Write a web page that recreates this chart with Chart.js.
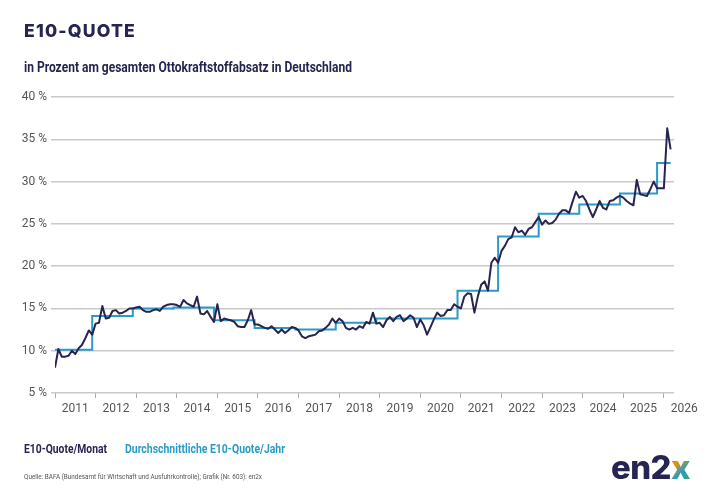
<!DOCTYPE html>
<html>
<head>
<meta charset="utf-8">
<script src="https://cdn.jsdelivr.net/npm/chart.js@4.4.1/dist/chart.umd.min.js"></script>
<style>
  body { margin:0; width:710px; height:502px; background:#fff; position:relative; overflow:hidden;
         font-family:"Liberation Sans Narrow",Roboto,"Liberation Sans",sans-serif; }
  #myChart { position:absolute; left:0; top:0; }
  .txt { position:absolute; white-space:nowrap; transform-origin:0 50%; }
  #title { left:24px; top:20px; font:800 18px Inter,"Open Sans",sans-serif; letter-spacing:1.2px; color:#262450; }
  #sub { left:24px; top:59px; font-weight:bold; font-size:14px; color:#262450; }
  #leg1 { left:24px; top:441px; font-weight:bold; font-size:13px; color:#262450; }
  #leg2 { left:125px; top:441px; font-weight:bold; font-size:13px; color:#2a9bc6; }
  #src { left:24px; top:472px; font-size:8px; color:#555; }
  #logo { left:611px; top:448px; font:800 32px Inter,"Open Sans",sans-serif; letter-spacing:-0.5px; color:#262450; }
  #logo .x { background:linear-gradient(135deg,#e63b2e 0%,#f39200 35%,#2a9bc6 60%,#3aaa35 100%);
             -webkit-background-clip:text; background-clip:text; color:transparent; }
</style>
</head>
<body>
<canvas id="myChart" width="710" height="502"></canvas>
<div class="txt" id="title" data-w="112">E10-QUOTE</div>
<div class="txt" id="sub" data-w="328">in Prozent am gesamten Ottokraftstoffabsatz in Deutschland</div>
<div class="txt" id="leg1" data-w="83">E10-Quote/Monat</div>
<div class="txt" id="leg2" data-w="160">Durchschnittliche E10-Quote/Jahr</div>
<div class="txt" id="src" data-w="238">Quelle: BAFA (Bundesamt für Wirtschaft und Ausfuhrkontrolle); Grafik (Nr. 603): en2x</div>
<div class="txt" id="logo" data-w="79">en2<span class="x">x</span></div>
<script>
// year labels, one per year start (month index 0 = Jan 2011)
var years = ["2011","2012","2013","2014","2015","2016","2017","2018","2019","2020","2021","2022","2023","2024","2025","2026"];

// monthly E10 share, Jan 2011 .. Mar 2026
var monthly = [
  8.0, 10.2, 9.3, 9.3, 9.4, 10.0, 9.6, 10.3, 10.7, 11.5, 12.4, 11.9,
  13.2, 13.3, 15.3, 13.8, 13.9, 14.7, 14.8, 14.4, 14.5, 14.7, 15.0, 15.0,
  15.1, 15.2, 14.8, 14.6, 14.6, 14.8, 14.9, 14.7, 15.2, 15.4, 15.5, 15.5,
  15.4, 15.2, 16.0, 15.6, 15.4, 15.2, 16.4, 14.4, 14.3, 14.7, 14.0, 13.4,
  15.5, 13.5, 13.8, 13.7, 13.6, 13.4, 12.9, 12.8, 12.8, 13.6, 14.8, 13.1,
  13.1, 12.9, 12.7, 12.6, 12.9, 12.5, 12.1, 12.5, 12.1, 12.4, 12.8, 12.7,
  12.4, 11.7, 11.5, 11.7, 11.8, 11.9, 12.3, 12.4, 12.7, 13.1, 13.8, 13.3,
  13.8, 13.5, 12.7, 12.5, 12.7, 12.5, 12.9, 12.7, 13.4, 13.2, 14.5, 13.2,
  13.3, 12.8, 13.6, 14.0, 13.5, 14.0, 14.2, 13.5, 13.8, 14.2, 13.9, 12.8,
  13.7, 13.0, 11.9, 12.8, 13.7, 14.5, 14.1, 14.2, 14.8, 14.8, 15.5, 15.2,
  15.0, 16.4, 16.8, 16.7, 14.5, 16.4, 17.8, 18.2, 17.1, 20.4, 21.0, 20.4,
  21.8, 22.4, 23.2, 23.4, 24.6, 24.0, 24.2, 23.7, 24.4, 24.6, 25.2, 25.8,
  24.9, 25.4, 25.0, 25.1, 25.5, 26.2, 26.6, 26.6, 26.3, 27.6, 28.8, 28.1,
  28.3, 27.7, 26.7, 25.8, 26.7, 27.7, 26.9, 26.7, 27.7, 27.8, 28.1, 28.3,
  28.1, 27.7, 27.4, 27.2, 30.2, 28.5, 28.4, 28.3, 29.1, 30.0, 29.2, 29.2,
  29.2, 36.3, 33.8
];

// yearly average levels and the month index where each level starts
var avgLevel = [10.1, 14.1, 15.0, 15.1, 13.6, 12.7, 12.5, 13.3, 13.8, 13.8, 17.1, 23.5, 26.2, 27.3, 28.6, 32.2];
var avgFrom  = [0, 11, 23, 35, 47, 59, 71, 83, 95, 107, 119, 131, 143, 155, 167, 178];

var yTicks = [5, 10, 15, 20, 25, 30, 35, 40];

var navy = "#262450";
var blue = "#2a9bc6";
var grey = "#c9c9c9";
var narrow = "'Liberation Sans Narrow',Roboto,sans-serif";

// squeeze the html texts to the widths of the condensed original
document.querySelectorAll('.txt').forEach(function (el) {
  var w = el.getBoundingClientRect().width;
  el.style.transform = 'scaleX(' + (el.dataset.w / w) + ')';
});

var monthPts = monthly.map(function (v, i) { return {x: i, y: v}; });
// the level is drawn on the point before its start, so it carries to the next start
var avgPts = [];
avgLevel.forEach(function (v, i) {
  avgPts.push({x: avgFrom[i], y: v});
  var end = i + 1 < avgFrom.length ? avgFrom[i + 1] : monthly.length - 1;
  avgPts.push({x: end, y: v});
});

var canvas = document.getElementById('myChart').getContext('2d');

var chart = new Chart(canvas, {
  type: "line",
  data: {
    datasets: [
      {label: "E10-Quote/Monat", data: monthPts, borderColor: navy, borderWidth: 2,
       pointRadius: 0, tension: 0, borderJoinStyle: "round"},
      {label: "Durchschnittliche E10-Quote/Jahr", data: avgPts, borderColor: blue, borderWidth: 2,
       pointRadius: 0, tension: 0}
    ]
  },
  options: {
    responsive: false,
    animation: false,
    layout: {padding: {top: 97, right: 36, bottom: 79, left: 0}},
    plugins: {legend: {display: false}, tooltip: {enabled: false}},
    scales: {
      x: {
        type: "linear", min: 0, max: 183,
        afterBuildTicks: function (s) { s.ticks = years.map(function (y, i) { return {value: i * 12}; }); },
        afterFit: function (s) { s.height = 30; },
        border: {display: false},
        grid: {drawOnChartArea: false, drawTicks: true, tickLength: 5, color: "#aaa", lineWidth: 1},
        ticks: {
          autoSkip: false, maxRotation: 0, labelOffset: 20.3, padding: 4, color: "#555",
          font: {family: narrow, size: 12},
          callback: function (v) { return years[v / 12]; }
        }
      },
      y: {
        min: 5, max: 40,
        afterBuildTicks: function (s) { s.ticks = yTicks.map(function (v) { return {value: v}; }); },
        afterFit: function (s) { s.width = 55; },
        border: {display: false},
        grid: {color: grey, lineWidth: 1.5, drawTicks: true, tickLength: 4},
        ticks: {
          padding: 4, color: "#555",
          font: {family: narrow, size: 12},
          callback: function (v) { return v + " %"; }
        }
      }
    }
  }
});
</script>
</body>
</html>
